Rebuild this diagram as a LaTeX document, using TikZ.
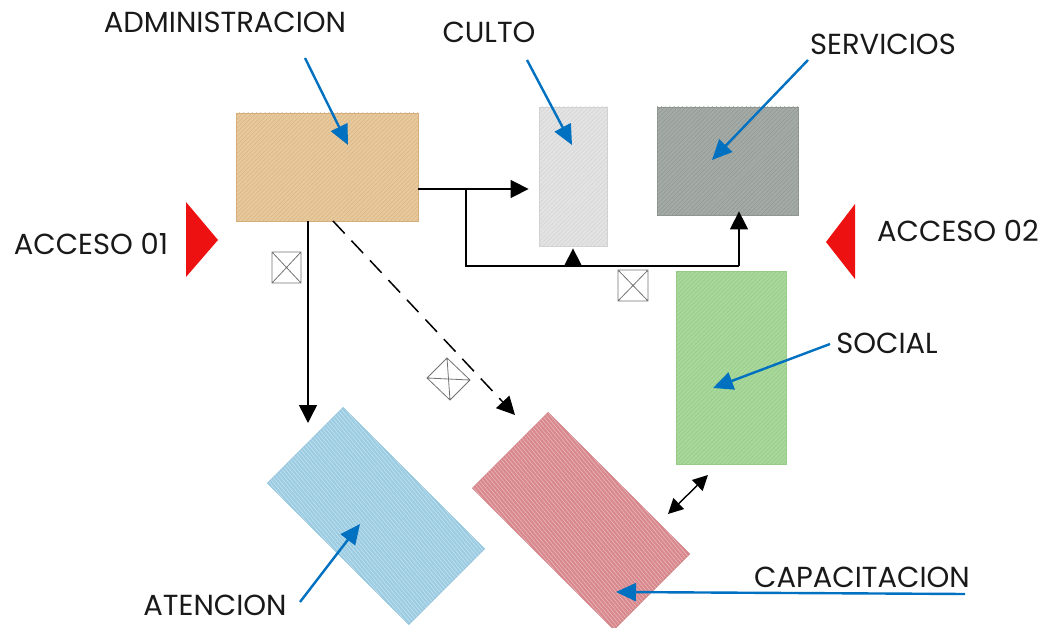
\documentclass[tikz,border=0pt]{standalone}
\usepackage{fontspec}
\setmainfont{Poppins}
\usetikzlibrary{arrows.meta,patterns.meta,calc}
\definecolor{admfill}{HTML}{E8C99B}
\definecolor{admdraw}{HTML}{D6AE7C}
\definecolor{admhatch}{HTML}{D2AF80}
\definecolor{culfill}{HTML}{E3E3E3}
\definecolor{culdraw}{HTML}{D2D2D2}
\definecolor{culhatch}{HTML}{CFCFCF}
\definecolor{serfill}{HTML}{A4AAA6}
\definecolor{serdraw}{HTML}{8F9591}
\definecolor{serhatch}{HTML}{8C928E}
\definecolor{socfill}{HTML}{A8D89A}
\definecolor{socdraw}{HTML}{98CC8A}
\definecolor{sochatch}{HTML}{92C584}
\definecolor{atefill}{HTML}{9CCDE3}
\definecolor{atedraw}{HTML}{8CC2DA}
\definecolor{capfill}{HTML}{D9898D}
\definecolor{capdraw}{HTML}{CF7C81}
\definecolor{callblue}{HTML}{0070C0}
\definecolor{accred}{HTML}{EE1111}
\tikzset{
  zone/.style n args={3}{rectangle, inner sep=0pt, line width=0.8pt,
    fill=#1, draw=#2,
    postaction={pattern={Lines[angle=45,distance=3pt,line width=0.35pt]}, pattern color=#3}},
  rzone/.style n args={2}{rectangle, inner sep=0pt, line width=0.8pt,
    fill=#1, draw=#2, rotate=-45, minimum width=200pt, minimum height=107pt,
    postaction={pattern={Lines[angle=-50,distance=3pt,line width=0.5pt]}, pattern color=white!45!#1}},
  lbl/.style={font=\fontsize{29}{29}\selectfont, text=black!90, inner sep=0pt},
  callout/.style={draw=callblue, line width=2.4pt, -{Triangle[length=20pt,width=18pt]}},
  conn/.style={draw=black, line width=1.5pt, -{Triangle[length=18pt,width=18pt]}},
  dconn/.style={conn, dash pattern=on 17pt off 10pt},
  dbl/.style={draw=black, line width=1.4pt, {Triangle[length=15pt,width=15pt]}-{Triangle[length=15pt,width=15pt]}},
  xbox/.style={draw=black!55, line width=0.8pt},
  access/.style={fill=accred, draw=none}
}
\begin{document}
\begin{tikzpicture}[x=1pt,y=-1pt]
\useasboundingbox (0,0) rectangle (1046,628);

% zones
\node[zone={admfill}{admdraw}{admhatch}, minimum width=182pt, minimum height=108pt] (admin) at (327,167) {};
\node[zone={culfill}{culdraw}{culhatch}, minimum width=68pt, minimum height=139pt] (culto) at (573,176.5) {};
\node[zone={serfill}{serdraw}{serhatch}, minimum width=141pt, minimum height=108pt] (serv) at (727.5,161) {};
\node[zone={socfill}{socdraw}{sochatch}, minimum width=110pt, minimum height=193pt] (social) at (731,367.5) {};
\node[rzone={atefill}{atedraw}] (aten) at (376,516) {};
\node[rzone={capfill}{capdraw}] (capa) at (581,521) {};

% labels
\node[lbl] (tadmin) at (225,22) {ADMINISTRACION};
\node[lbl] (tculto) at (489,32) {CULTO};
\node[lbl] (tserv) at (883,44) {SERVICIOS};
\node[lbl] (tacc1) at (91,244) {ACCESO 01};
\node[lbl] (tacc2) at (958,231) {ACCESO 02};
\node[lbl] (tsocial) at (887,343) {SOCIAL};
\node[lbl] (taten) at (215,605) {ATENCION};
\node[lbl] (tcapa) at (862,577) {CAPACITACION};

% access triangles
\fill[access] (186,202) -- (218,240) -- (186,277) -- cycle;
\fill[access] (855,204) -- (826,242) -- (855,279) -- cycle;

% callout coordinates
\coordinate (cadmin0) at (305,58);
\coordinate (cadmin1) at (348,145);
\coordinate (cculto0) at (527,60);
\coordinate (cculto1) at (572,145);
\coordinate (cserv0) at (808,60);
\coordinate (cserv1) at (712,160);
\coordinate (csoc0) at (830,344);
\coordinate (csoc1) at (713,388);
\coordinate (cate0) at (300,602);
\coordinate (cate1) at (360,524);
\coordinate (ccap0) at (965,594);
\coordinate (ccap1) at (616,592);
\draw[callout] (cadmin0) -- (cadmin1);
\draw[callout] (cculto0) -- (cculto1);
\draw[callout] (cserv0) -- (cserv1);
\draw[callout] (csoc0) -- (csoc1);
\draw[callout] (cate0) -- (cate1);
\draw[callout] (ccap0) -- (ccap1);

% black connectors
\coordinate (row1) at (0,189);
\coordinate (j1) at (466,189);
\coordinate (j2) at (739,266);
\draw[conn, shorten >=10pt] (admin.east |- row1) -- (culto.west |- row1);
\draw[line width=1.5pt] (j1) |- (j2);
\draw[conn, shorten >=-4pt] (j2) -- (serv.south -| j2);
\coordinate (j3) at (573,266);
\draw[conn, shorten >=2pt] (j3) -- (culto.south);
\coordinate (v1) at (308,221);
\coordinate (v2) at (308,423);
\draw[conn] (v1) -- (v2);
\coordinate (d1) at (333,221);
\coordinate (d2) at (515,415);
\draw[dconn] (d1) -- (d2);
\coordinate (b1) at (668,514);
\coordinate (b2) at (708,475);
\draw[dbl] (b1) -- (b2);

% crossed boxes
\draw[xbox] (272,252) rectangle (301,283) (272,252) -- (301,283) (301,252) -- (272,283);
\draw[xbox] (618,270) rectangle (648,301) (618,270) -- (648,301) (648,270) -- (618,301);
\draw[xbox] (427,378) -- (447,358) -- (470,380) -- (450,400) -- cycle (427,378) -- (470,380) (447,358) -- (450,400);
\end{tikzpicture}
\end{document}
